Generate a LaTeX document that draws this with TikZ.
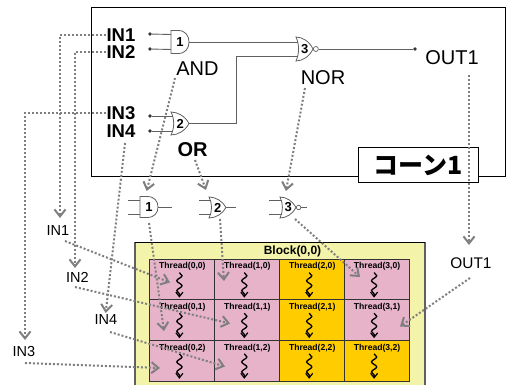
\documentclass[tikz,border=0pt]{standalone}
\usepackage{fontspec}
\setmainfont{Liberation Sans}
\newfontfamily\cjkfont{Noto Sans CJK JP}
\usetikzlibrary{arrows.meta,decorations.pathmorphing,calc}
\definecolor{flowgray}{HTML}{7F7F7F}
\definecolor{gateline}{HTML}{606060}
\definecolor{pinkcell}{HTML}{E6B3C8}
\definecolor{orangecell}{HTML}{FFCC00}
\definecolor{blockfill}{HTML}{F3F3AA}
\tikzset{
  flow/.style={draw=flowgray,line width=2pt,dash pattern=on 2pt off 2pt,-{Straight Barb[length=7pt,width=11pt,line width=2pt]}},
  wire/.style={draw=gateline,line width=0.9pt},
  gate/.style={draw=gateline,line width=0.8pt,fill=white},
  inmain/.style={font=\fontsize{18.5}{18}\selectfont\bfseries,inner sep=0pt,anchor=center},
  bigtext/.style={font=\fontsize{20}{20}\selectfont,inner sep=0pt,anchor=center},
  lowtext/.style={font=\fontsize{14.5}{15}\selectfont,inner sep=0pt,anchor=center},
  num/.style={font=\fontsize{13}{13}\selectfont\bfseries,inner sep=0pt,anchor=center},
  threadtext/.style={font=\fontsize{8.6}{9}\selectfont\bfseries,inner sep=0pt,anchor=center},
  cell/.style={draw=black!80,line width=1pt,minimum width=64.9pt,minimum height=40.6pt,inner sep=0pt,outer sep=0pt,anchor=center},
  squig/.style={draw=black,line width=1.3pt,-{Straight Barb[length=4.5pt,width=7pt,line width=1.2pt]},decorate,decoration={snake,amplitude=2.6pt,segment length=10pt,post length=3.5pt}},
  dotpt/.style={circle,fill=black!80,inner sep=0pt,minimum size=3.6pt},
}
% name, left x, right x, centre y, half height, input half spacing, number
\newcommand{\AndG}[7]{%
  \path[gate] (#2,#4-#5) -- (#2*.6+#3*.4,#4-#5)
    .. controls (#2*.2+#3*.8,#4-#5) and (#3,#4-.55*#5) .. (#3,#4)
    .. controls (#3,#4+.55*#5) and (#2*.2+#3*.8,#4+#5) .. (#2*.6+#3*.4,#4+#5)
    -- (#2,#4+#5) -- cycle;
  \node[num] (#1) at (#2*.5+#3*.5,#4) {#7};
  \coordinate (#1-a) at (#2,#4-#6);
  \coordinate (#1-b) at (#2,#4+#6);
  \coordinate (#1-o) at (#3,#4);}
\newcommand{\OrG}[7]{%
  \path[gate] (#2,#4-#5) .. controls (#2*.6+#3*.4,#4-#5) and (#2*.2+#3*.8,#4-.6*#5) .. (#3,#4)
    .. controls (#2*.2+#3*.8,#4+.6*#5) and (#2*.6+#3*.4,#4+#5) .. (#2,#4+#5)
    .. controls (#2*.8+#3*.2,#4+.4*#5) and (#2*.8+#3*.2,#4-.4*#5) .. (#2,#4-#5) -- cycle;
  \node[num] (#1) at (#2*.48+#3*.52,#4) {#7};
  \coordinate (#1-a) at (#2+1.5,#4-#6);
  \coordinate (#1-b) at (#2+1.5,#4+#6);
  \coordinate (#1-o) at (#3,#4);}
\begin{document}
\begin{tikzpicture}[x=1pt,y=-1pt]
\useasboundingbox (0,0) rectangle (509,385);
\path[fill=white] (0,0) rectangle (509,385);
% main box
\node[draw=black,line width=1pt,minimum width=414.5pt,minimum height=168.5pt,inner sep=0pt,anchor=north west] (cone) at (90.5,7.5) {};
% block
\path[fill=blockfill] (135,242) rectangle (425,385);
\draw[draw=gateline,line width=1.3pt] (135,385) -- (135,242);
\draw[draw=gateline,line width=1.3pt] (425,242) -- (425,385);
\draw[draw=black,line width=1pt] (135,242) -- (425,242);
\node[font=\fontsize{12}{12}\selectfont\bfseries,inner sep=0pt] (blocklabel) at (292.5,251) {Block(0,0)};
% cells
\foreach \c/\x in {0/182.4,1/247.3,2/312.2,3/377.1}{
  \foreach \r/\y in {0/279.6,1/320.2,2/360.8}{
    \pgfmathsetmacro{\isorange}{(\c==2 || (\r==2 && \c==3)) ? 1 : 0}
    \ifdim\isorange pt>0.5pt
      \node[cell,fill=orangecell] (t\c\r) at (\x,\y) {};
    \else
      \node[cell,fill=pinkcell] (t\c\r) at (\x,\y) {};
    \fi
    \node[threadtext] (tl\c\r) at (\x,\y-13) {Thread(\c,\r)};
    \coordinate (sa\c\r) at (\x-3,\y-7);
    \coordinate (sb\c\r) at (\x-3,\y+18);
    \draw[squig] (sa\c\r) -- (sb\c\r);
  }
}
% gates in the main box
\AndG{ga}{171}{189}{42}{11.5}{7.5}{1}
\OrG{gb}{171}{189}{123.5}{11.5}{7.5}{2}
\OrG{gc}{296}{313}{49}{12}{7}{3}
\node[draw=gateline,line width=.7pt,fill=white,circle,inner sep=0pt,minimum size=5pt,anchor=west] (gcb) at (gc-o) {};
\node[dotpt] (d1) at (150,34) {};
\node[dotpt] (d2) at (150,49) {};
\node[dotpt] (d3) at (150,116) {};
\node[dotpt] (d4) at (150,131) {};
\node[dotpt] (d5) at (415,49) {};
\draw[wire] (d1) -- (ga-a);
\draw[wire] (d2) -- (ga-b);
\draw[wire] (d3) -- (gb-a);
\draw[wire] (d4) -- (gb-b);
\draw[wire] (ga-o) -- (gc-a);
\draw[wire] (gb-o) -- (236,123.5) |- (gc-b);
\draw[wire] (gcb) -- (d5);
\node[inmain] (in1) at (121,35) {IN1};
\node[inmain] (in2) at (121,52) {IN2};
\node[inmain] (in3) at (121,113) {IN3};
\node[inmain] (in4) at (121,131) {IN4};
\node[bigtext] (andl) at (197.5,69) {AND};
\node[bigtext,font=\fontsize{20}{20}\selectfont\bfseries] (orl) at (192.5,150) {OR};
\node[bigtext] (norl) at (323,78) {NOR};
\node[bigtext] (out1) at (452,58) {OUT1};
% small gates
\AndG{sa}{140}{158}{207}{10.5}{7}{1}
\OrG{sb}{209}{226}{207.5}{10.5}{7}{2}
\OrG{sc}{280}{296}{207.5}{10.5}{7}{3}
\node[draw=gateline,line width=.7pt,fill=white,circle,inner sep=0pt,minimum size=4.5pt,anchor=west] (scb) at (sc-o) {};
\coordinate (sa-l1) at (128,200);\coordinate (sa-l2) at (128,214);\coordinate (sa-r) at (172,207);
\coordinate (sb-l1) at (199,200.5);\coordinate (sb-l2) at (199,214.5);\coordinate (sb-r) at (236,207.5);
\coordinate (sc-l1) at (269,200.5);\coordinate (sc-l2) at (269,214.5);\coordinate (sc-r) at (307,207.5);
\draw[wire] (sa-l1) -- (sa-a);\draw[wire] (sa-l2) -- (sa-b);\draw[wire] (sa-o) -- (sa-r);
\draw[wire] (sb-l1) -- (sb-a);\draw[wire] (sb-l2) -- (sb-b);\draw[wire] (sb-o) -- (sb-r);
\draw[wire] (sc-l1) -- (sc-a);\draw[wire] (sc-l2) -- (sc-b);\draw[wire] (scb) -- (sc-r);
% title box
\node[draw=black,line width=1pt,fill=white,minimum width=120pt,minimum height=35.5pt,inner sep=0pt,font=\cjkfont\fontsize{25}{25}\selectfont\bfseries] (title) at (418,165) {コーン1};
% lower labels
\node[lowtext] (lin1) at (58,231) {IN1};
\node[lowtext] (lin2) at (77.5,277) {IN2};
\node[lowtext] (lin4) at (106,320) {IN4};
\node[lowtext] (lin3) at (24,352) {IN3};
\node[lowtext,font=\fontsize{15.4}{16}\selectfont] (lout) at (471,263) {OUT1};
% free ends
\coordinate (e-and) at (175,78);\coordinate (t-and) at (146.7,191);
\coordinate (e-or) at (195,160);\coordinate (t-or) at (206,190);
\coordinate (e-nor) at (305,88);\coordinate (t-nor) at (286,191);
\coordinate (e-out) at (469,75);\coordinate (t-out) at (469,245);
\coordinate (t-in1) at (60,218);\coordinate (t-in2) at (75,268);\coordinate (t-in3) at (25,340);
\coordinate (e-in4) at (125,143);\coordinate (t-in4) at (105.7,313);
\coordinate (e-sa) at (149,223);\coordinate (t-sa) at (164,331);
\coordinate (e-sb) at (220,219);\coordinate (t-sb) at (224,281);
\coordinate (e-sc) at (295,219);\coordinate (t-sc) at (360,277);
\coordinate (e-l1) at (65,241);\coordinate (t-l1) at (170,282.5);
\coordinate (e-l2) at (75,287);\coordinate (t-l2) at (230,323.5);
\coordinate (e-l4) at (110,332);\coordinate (t-l4) at (225,366.5);
\coordinate (e-l3) at (25,363);\coordinate (t-l3) at (160,368);
\coordinate (e-lo) at (470,278);\coordinate (t-lo) at (400,326.5);
% flows
\draw[flow] (in1.west) -| (t-in1);
\draw[flow] (in2.west) -| (t-in2);
\draw[flow] (in3.west) -| (t-in3);
\draw[flow] (e-in4) -- (t-in4);
\draw[flow] (e-and) -- (t-and);
\draw[flow] (e-or) -- (t-or);
\draw[flow] (e-nor) -- (t-nor);
\draw[flow] (e-out) -- (t-out);
\draw[flow] (e-sa) -- (t-sa);
\draw[flow] (e-sb) -- (t-sb);
\draw[flow] (e-sc) -- (t-sc);
\draw[flow] (e-l1) -- (t-l1);
\draw[flow] (e-l2) -- (t-l2);
\draw[flow] (e-l4) -- (t-l4);
\draw[flow] (e-l3) -- (t-l3);
\draw[flow] (e-lo) -- (t-lo);
\end{tikzpicture}
\end{document}
